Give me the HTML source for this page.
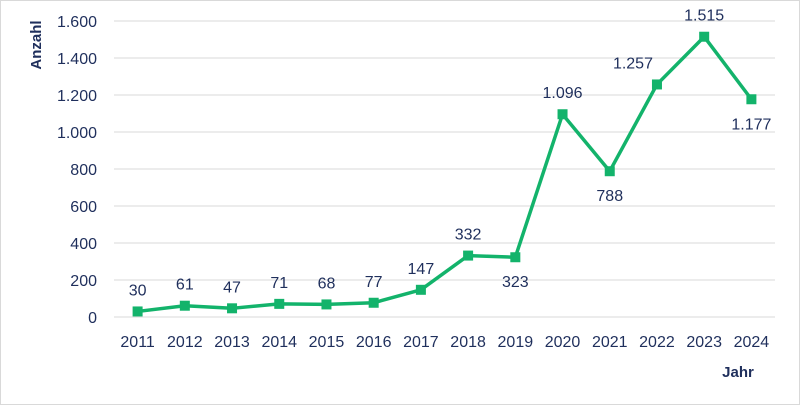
<!DOCTYPE html>
<html><head><meta charset="utf-8"><style>
body{margin:0;background:#fff;}
svg{display:block;font-family:"Liberation Sans",sans-serif;}
</style></head><body>
<svg width="800" height="405">
<rect x="0.5" y="0.5" width="799" height="404" fill="#fff" stroke="#d9d9d9"/>
<g id="grid"></g><g id="series"></g><g id="labels"></g>
<text transform="translate(41,45) rotate(-90)" text-anchor="middle" font-size="15" font-weight="bold" fill="#1f2f5c">Anzahl</text>
<text x="738" y="377" text-anchor="middle" font-size="15" font-weight="bold" fill="#1f2f5c">Jahr</text>
</svg>
<script>
const categories=["2011","2012","2013","2014","2015","2016","2017","2018","2019","2020","2021","2022","2023","2024"];
const values=[30,61,47,71,68,77,147,332,323,1096,788,1257,1515,1177];
const valueLabels=["30","61","47","71","68","77","147","332","323","1.096","788","1.257","1.515","1.177"];
const yTicks=[0,200,400,600,800,1000,1200,1400,1600];
const yTickLabels=["0","200","400","600","800","1.000","1.200","1.400","1.600"];
const labelPos=["a","a","a","a","a","a","a","a","b","a","b","al","a","b"];
const ns="http://www.w3.org/2000/svg";
const L=114,R=775,Y0=317,Y1=21;
const x=i=>L+(R-L)/categories.length*(i+0.5);
const y=v=>Y0-(v/1600)*(Y0-Y1);
function mk(t,a,p){const e=document.createElementNS(ns,t);for(const k in a)e.setAttribute(k,a[k]);p.appendChild(e);return e;}
const g=document.getElementById('grid'),s=document.getElementById('series'),lb=document.getElementById('labels');
yTicks.forEach((v,i)=>{
 if(v>0){const l=mk('line',{x1:L,x2:R,y1:y(v),y2:y(v),stroke:'#d9d9d9','stroke-width':1},g);
 
 }
 const t=mk('text',{x:97,y:y(v)+6,'text-anchor':'end','font-size':16,fill:'#1f2f5c'},g);t.textContent=yTickLabels[i];
 
 
});
const ax=mk('line',{x1:L,x2:R,y1:Y0,y2:Y0,stroke:'#d9d9d9'},g);


categories.forEach((c,i)=>{const t=mk('text',{x:x(i),y:347,'text-anchor':'middle','font-size':16,fill:'#1f2f5c'},g);t.textContent=c;
 
 });
const pl=mk('polyline',{points:values.map((v,i)=>x(i)+','+y(v)).join(' '),fill:'none',stroke:'#13b36b','stroke-width':3.5,'stroke-linejoin':'round'},s);


values.forEach((v,i)=>{
 const m=mk('rect',{x:x(i)-5,y:y(v)-5,width:10,height:10,fill:'#13b36b'},s);
 
 
 const p=labelPos[i];let tx=x(i),ty=y(v)-16;
 if(p==='b')ty=y(v)+30;if(p==='al'){tx=x(i)-24;ty=y(v)-16;}
 const t=mk('text',{x:tx,y:ty,'text-anchor':'middle','font-size':16,fill:'#1f2f5c'},lb);t.textContent=valueLabels[i];
 
 
});
</script>
</body></html>
